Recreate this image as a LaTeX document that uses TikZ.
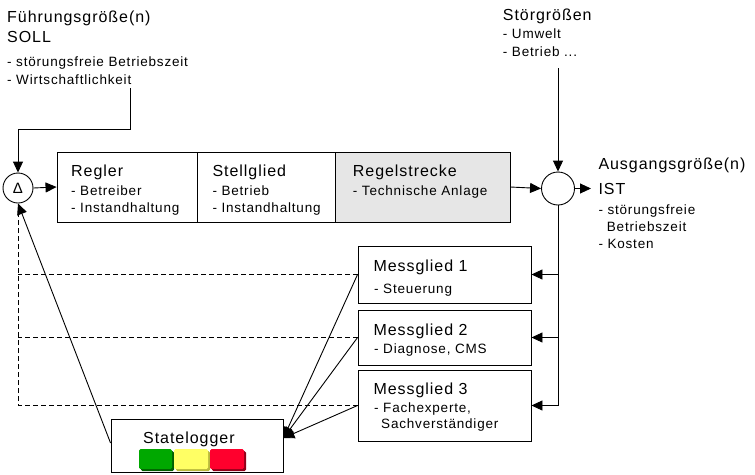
\documentclass[tikz,border=0pt]{standalone}
\usepackage{fontspec}
\setmainfont{Liberation Sans}[LetterSpace=6]
\usetikzlibrary{arrows.meta,calc}
\definecolor{rsfill}{RGB}{230,230,230}
\definecolor{bgreen}{RGB}{0,168,0}
\definecolor{bgreend}{RGB}{0,95,0}
\definecolor{byellow}{RGB}{255,255,100}
\definecolor{byellowd}{RGB}{185,185,60}
\definecolor{bred}{RGB}{255,0,45}
\definecolor{bredd}{RGB}{145,0,25}
\begin{document}
\begin{tikzpicture}[x=1pt,y=-1pt,
  bt/.style={font=\fontsize{16}{19}\selectfont,anchor=base west,inner sep=0pt},
  st/.style={font=\fontsize{13.5}{16}\selectfont,anchor=base west,inner sep=0pt},
  blk/.style={draw,line width=0.9pt,inner sep=0pt,minimum width=#1},
  conn/.style={line width=0.9pt},
  arr/.style={conn,-{Triangle[length=11pt,width=10pt]}},
  dsh/.style={line width=0.9pt,dash pattern=on 5pt off 3pt},
  bar/.style={rounded corners=1.5pt}]
\useasboundingbox (0,0) rectangle (755,474);

% blocks
\node[blk=140pt,minimum height=70pt] (reg) at (127,187) {};
\node[blk=138pt,minimum height=70pt] (stg) at (266,187) {};
\node[blk=175pt,minimum height=70pt,fill=rsfill] (rs) at (422.5,187) {};
\node[draw,circle,line width=0.9pt,minimum size=30pt,inner sep=0pt,font=\fontsize{15}{15}\selectfont] (dl) at (18,188) {Δ};
\node[draw,circle,line width=0.9pt,minimum size=33pt,inner sep=0pt] (sm) at (558,188.5) {};
\node[blk=173pt,minimum height=57pt] (m1) at (444.5,274.5) {};
\node[blk=173pt,minimum height=55pt] (m2) at (444.5,337.5) {};
\node[blk=173pt,minimum height=71pt] (m3) at (444.5,405.5) {};
\node[blk=172pt,minimum height=53pt] (sl) at (197,445.5) {};

% status bars
\fill[bar,bgreend] (141,451) rectangle (174,471);
\fill[bar,bgreen] (139,449) rectangle (172,469);
\fill[bar,byellowd] (176,451) rectangle (210,471);
\fill[bar,byellow] (174,449) rectangle (208,469);
\fill[bar,bredd] (212,451) rectangle (246,471);
\fill[bar,bred] (210,449) rectangle (244,469);

% texts
\node[bt] (f1) at (7,22) {Führungsgröße(n)};
\node[bt] (f2) at (7,42.3) {SOLL};
\node[st] (f3) at (7,66.5) {- störungsfreie Betriebszeit};
\node[st] (f4) at (7,84) {- Wirtschaftlichkeit};
\node[bt] (s1) at (502.7,20.7) {Störgrößen};
\node[st] (s2) at (502.7,38.3) {- Umwelt};
\node[st] (s3) at (502.7,56.7) {- Betrieb ...};
\node[bt] (r1) at (71,176.7) {Regler};
\node[st] (r2) at (71,195) {- Betreiber};
\node[st] (r3) at (71,212.7) {- Instandhaltung};
\node[bt] (g1) at (212.3,176.7) {Stellglied};
\node[st] (g2) at (212.3,195) {- Betrieb};
\node[st] (g3) at (212.3,212.7) {- Instandhaltung};
\node[bt] (p1) at (352.7,176.3) {Regelstrecke};
\node[st] (p2) at (352.7,195) {- Technische Anlage};
\node[bt] (a1) at (598.3,169) {Ausgangsgröße(n)};
\node[bt] (a2) at (598.3,194) {IST};
\node[st] (a3) at (598.3,214.3) {- störungsfreie};
\node[st] (a4) at (606.7,231) {Betriebszeit};
\node[st] (a5) at (598.3,248.3) {- Kosten};
\node[bt] (n1) at (373.3,271.7) {Messglied 1};
\node[st] (n2) at (374,293.3) {- Steuerung};
\node[bt] (n3) at (373.3,335) {Messglied 2};
\node[st] (n4) at (374,353.3) {- Diagnose, CMS};
\node[bt] (n5) at (373.3,394) {Messglied 3};
\node[st] (n6) at (374,412.7) {- Fachexperte,};
\node[st] (n7) at (381,428.3) {Sachverständiger};
\node[bt] (l1) at (143,443.3) {Statelogger};

% connectors
\coordinate (fin) at (130,88);
\coordinate (fk) at (130,129);
\draw[arr] (fin) -- (fk) -| (dl.north);
\draw[arr] (dl.east) -- (reg.west);
\draw[arr] (rs.east) -- (sm.west);
\coordinate (sin) at (558,68);
\draw[arr] (sin) -- (sm.north);
\coordinate (out) at (591,188.5);
\draw[arr] (sm.east) -- (out);
\draw[arr] (sm.south) |- (m3.east);
\draw[arr] (sm.south |- m1.east) -- (m1.east);
\draw[arr] (sm.south |- m2.east) -- (m2.east);

\draw[dsh] (m3.west) -| (dl.south);
\draw[dsh] (m1.west) -- (m1.west -| dl.south);
\draw[dsh] (m2.west) -- (m2.west -| dl.south);
\draw[arr] ([yshift=2.5pt]sl.west) -- (dl.south);

\coordinate (slin) at ([yshift=7.5pt]sl.east);
\draw[arr] (m1.west) -- (slin);
\draw[arr] (m2.west) -- (slin);
\draw[arr] (m3.west) -- (slin);
\end{tikzpicture}
\end{document}
